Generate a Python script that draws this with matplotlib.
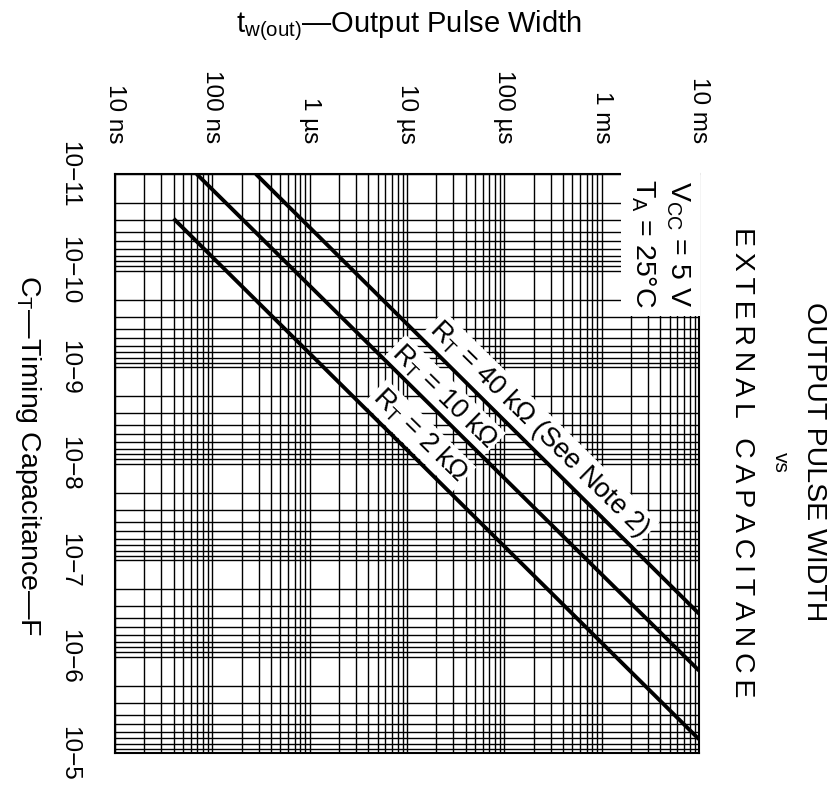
import numpy as np
import matplotlib
matplotlib.use("Agg")
import matplotlib.pyplot as plt
from matplotlib.ticker import LogLocator, NullFormatter, FixedLocator

plt.rcParams['font.family'] = ['Liberation Sans', 'DejaVu Sans']
plt.rcParams['mathtext.fontset'] = 'custom'
plt.rcParams['mathtext.rm'] = 'Liberation Sans'
plt.rcParams['mathtext.it'] = 'Liberation Sans:italic'

# ---- data ----
series_names = ["RT = 2 kΩ", "RT = 10 kΩ", "RT = 40 kΩ"]
tw_2k = [4.0e-8, 1.0e-2]
ct_2k = [2.9e-11, 7.2e-6]
tw_10k = [6.9e-8, 1.0e-2]
ct_10k = [1.0e-11, 1.4e-6]
tw_40k = [2.8e-7, 1.0e-2]
ct_40k = [1.0e-11, 3.6e-7]

tw_ticks = [1e-8, 1e-7, 1e-6, 1e-5, 1e-4, 1e-3, 1e-2]
tw_labels = ["10 ns", "100 ns", "1 µs", "10 µs", "100 µs", "1 ms", "10 ms"]
ct_ticks = [1e-11, 1e-10, 1e-9, 1e-8, 1e-7, 1e-6, 1e-5]
ct_labels = ["10−11", "10−10", "10−9", "10−8", "10−7", "10−6", "10−5"]

W, H = 836, 789
fig = plt.figure(figsize=(W / 100, H / 100), dpi=100)
L, R, T, B = 115, 699, 174, 753
ax = fig.add_axes([L / W, 1 - B / H, (R - L) / W, (B - T) / H])

ax.set_xscale('log')
ax.set_yscale('log')
ax.set_xlim(tw_ticks[0], tw_ticks[-1])
ax.set_ylim(ct_ticks[-1], ct_ticks[0])

ax.xaxis.set_major_locator(FixedLocator(tw_ticks))
ax.xaxis.set_minor_locator(LogLocator(base=10, subs=np.arange(2, 10), numticks=100))
ax.xaxis.set_minor_formatter(NullFormatter())
ax.set_xticklabels(tw_labels)
ax.yaxis.set_major_locator(FixedLocator(ct_ticks))
ax.yaxis.set_minor_locator(LogLocator(base=10, subs=np.arange(2, 10), numticks=100))
ax.yaxis.set_minor_formatter(NullFormatter())
ax.set_yticklabels(ct_labels)

ax.xaxis.tick_top()
ax.tick_params(axis='x', which='both', length=0, labelrotation=-90, pad=22, labelsize=17.5)
ax.tick_params(axis='y', which='both', length=0, labelrotation=-90, pad=25, labelsize=17.5)
for lab in ax.get_yticklabels():
    lab.set_va('center')
    lab.set_ha('right')

ax.grid(True, which='both', color='black', linewidth=1.0)
for s in ax.spines.values():
    s.set_linewidth(1.5)

for tw, ct in [(tw_2k, ct_2k), (tw_10k, ct_10k), (tw_40k, ct_40k)]:
    ax.plot(tw, ct, color='black', linewidth=2.8, solid_capstyle='butt', zorder=5)

box = dict(facecolor='white', edgecolor='none', pad=2)
ang = -44.5
ax.text(2.3e-4, 4.4e-9, "R$_\\mathrm{T}$ = 40 kΩ (See Note 2)", rotation=ang,
        rotation_mode='anchor', ha='center', va='center', fontsize=19.5, bbox=box, zorder=4)
ax.text(2.4e-5, 2.0e-9, "R$_\\mathrm{T}$ = 10 kΩ", rotation=ang,
        rotation_mode='anchor', ha='center', va='center', fontsize=19.5, bbox=box, zorder=4)
ax.text(1.35e-5, 5.1e-9, "R$_\\mathrm{T}$ = 2 kΩ", rotation=ang,
        rotation_mode='anchor', ha='center', va='center', fontsize=19.5, bbox=box, zorder=4)

# conditions box upper right
ax.text(0.988, 0.992, "V$_\\mathrm{CC}$ = 5 V\nT$_\\mathrm{A}$ = 25°C", transform=ax.transAxes,
        rotation=-90, ha='right', va='top', fontsize=20.5, linespacing=1.3,
        bbox=dict(facecolor='white', edgecolor='none', pad=6), zorder=4)

fig.text(409 / W, 1 - 26 / H, "t$_\\mathrm{w(out)}$—Output Pulse Width", ha='center', va='center', fontsize=21)
fig.text(28 / W, 1 - 455 / H, "C$_\\mathrm{T}$—Timing Capacitance—F", rotation=-90,
         ha='center', va='center', fontsize=20.5)
fig.text(814 / W, 1 - 462 / H, "OUTPUT PULSE WIDTH", rotation=-90, ha='center', va='center', fontsize=20.5)
fig.text(780 / W, 1 - 462 / H, "vs", rotation=-90, ha='center', va='center', fontsize=15)
fig.text(742 / W, 1 - 462 / H, "\u2009".join("EXTERNAL CAPACITANCE"), rotation=-90,
         ha='center', va='center', fontsize=20.5)

fig.savefig("out.png", dpi=100, facecolor='white')
